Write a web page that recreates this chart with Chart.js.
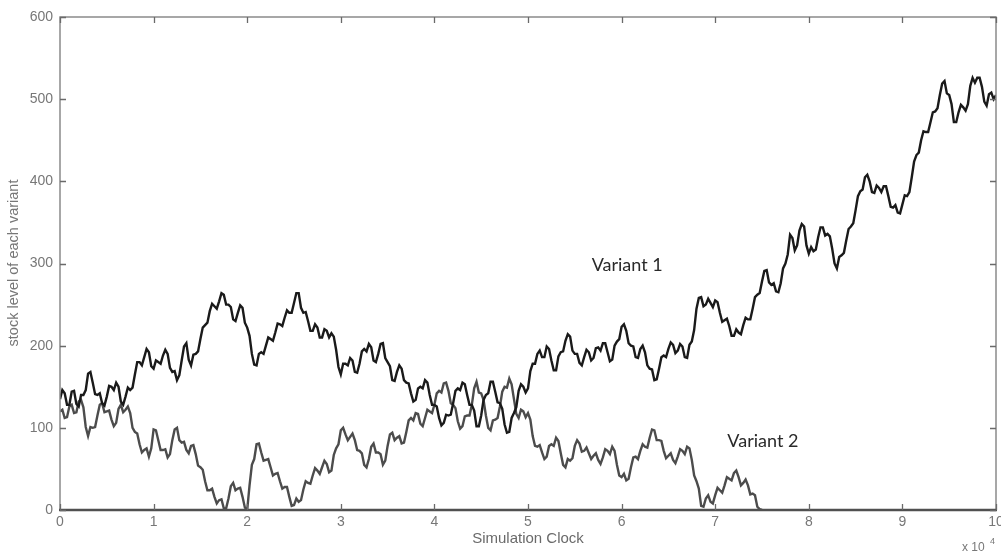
<!DOCTYPE html>
<html><head><meta charset="utf-8">
<script src="https://cdn.jsdelivr.net/npm/chart.js@4/dist/chart.umd.min.js"></script>
<style>html,body{margin:0;padding:0;background:#fff;overflow:hidden}#wrap{width:1001px;height:553px}</style>
</head><body><div id="wrap"><canvas id="c" width="1001" height="553"></canvas></div>
<script>
// Simulation clock (x 10^4)
const clock1 = [
0,0.025,0.05,0.075,0.1,0.125,0.15,0.175,0.2,0.225,0.25,0.275,0.3,0.325,0.35,0.375,0.4,0.425,0.45,0.475,0.5,0.525,0.55,0.575,0.6,0.625,0.65,0.675,0.7,0.725,0.75,0.775,0.8,0.825,0.85,0.875,0.9,0.925,0.95,0.975,
1,1.025,1.05,1.075,1.1,1.125,1.15,1.175,1.2,1.225,1.25,1.275,1.3,1.325,1.35,1.375,1.4,1.425,1.45,1.475,1.5,1.525,1.55,1.575,1.6,1.625,1.65,1.675,1.7,1.725,1.75,1.775,1.8,1.825,1.85,1.875,1.9,1.925,1.95,1.975,
2,2.025,2.05,2.075,2.1,2.125,2.15,2.175,2.2,2.225,2.25,2.275,2.3,2.325,2.35,2.375,2.4,2.425,2.45,2.475,2.5,2.525,2.55,2.575,2.6,2.625,2.65,2.675,2.7,2.725,2.75,2.775,2.8,2.825,2.85,2.875,2.9,2.925,2.95,2.975,
3,3.025,3.05,3.075,3.1,3.125,3.15,3.175,3.2,3.225,3.25,3.275,3.3,3.325,3.35,3.375,3.4,3.425,3.45,3.475,3.5,3.525,3.55,3.575,3.6,3.625,3.65,3.675,3.7,3.725,3.75,3.775,3.8,3.825,3.85,3.875,3.9,3.925,3.95,3.975,
4,4.025,4.05,4.075,4.1,4.125,4.15,4.175,4.2,4.225,4.25,4.275,4.3,4.325,4.35,4.375,4.4,4.425,4.45,4.475,4.5,4.525,4.55,4.575,4.6,4.625,4.65,4.675,4.7,4.725,4.75,4.775,4.8,4.825,4.85,4.875,4.9,4.925,4.95,4.975,
5,5.025,5.05,5.075,5.1,5.125,5.15,5.175,5.2,5.225,5.25,5.275,5.3,5.325,5.35,5.375,5.4,5.425,5.45,5.475,5.5,5.525,5.55,5.575,5.6,5.625,5.65,5.675,5.7,5.725,5.75,5.775,5.8,5.825,5.85,5.875,5.9,5.925,5.95,5.975,
6,6.025,6.05,6.075,6.1,6.125,6.15,6.175,6.2,6.225,6.25,6.275,6.3,6.325,6.35,6.375,6.4,6.425,6.45,6.475,6.5,6.525,6.55,6.575,6.6,6.625,6.65,6.675,6.7,6.725,6.75,6.775,6.8,6.825,6.85,6.875,6.9,6.925,6.95,6.975,
7,7.025,7.05,7.075,7.1,7.125,7.15,7.175,7.2,7.225,7.25,7.275,7.3,7.325,7.35,7.375,7.4,7.425,7.45,7.475,7.5,7.525,7.55,7.575,7.6,7.625,7.65,7.675,7.7,7.725,7.75,7.775,7.8,7.825,7.85,7.875,7.9,7.925,7.95,7.975,
8,8.025,8.05,8.075,8.1,8.125,8.15,8.175,8.2,8.225,8.25,8.275,8.3,8.325,8.35,8.375,8.4,8.425,8.45,8.475,8.5,8.525,8.55,8.575,8.6,8.625,8.65,8.675,8.7,8.725,8.75,8.775,8.8,8.825,8.85,8.875,8.9,8.925,8.95,8.975,
9,9.025,9.05,9.075,9.1,9.125,9.15,9.175,9.2,9.225,9.25,9.275,9.3,9.325,9.35,9.375,9.4,9.425,9.45,9.475,9.5,9.525,9.55,9.575,9.6,9.625,9.65,9.675,9.7,9.725,9.75,9.775,9.8,9.825,9.85,9.875,9.9,9.925,9.95,9.975,
10];
const variant1 = [
135,146,142,128,128,144,145,129,126,140,140,146,166,168,155,141,140,142,130,127,138,151,150,146,155,150,132,128,138,149,146,149,165,180,180,176,186,196,192,175,
172,182,180,178,188,195,190,173,168,169,158,164,182,199,203,183,176,189,190,193,208,222,225,228,242,251,248,245,254,264,262,250,250,247,232,230,240,249,246,228,
222,212,190,177,176,190,192,190,200,210,208,206,216,227,226,224,234,243,240,240,252,264,264,246,240,241,230,218,218,226,222,210,210,220,218,210,215,211,195,174,
165,178,178,176,185,182,168,167,178,193,196,193,202,198,182,180,190,202,203,185,180,175,158,157,168,176,172,158,155,154,142,132,134,148,150,148,158,155,140,128,
128,126,112,103,106,116,115,116,130,145,148,146,155,153,140,128,128,121,102,102,115,134,140,142,156,156,144,131,130,123,104,94,95,112,118,125,145,153,150,143,
148,169,178,178,190,194,186,186,199,196,182,170,170,187,192,193,206,214,211,194,190,190,179,176,186,195,192,182,185,197,198,194,203,203,192,181,183,200,205,208,
223,226,218,203,200,199,186,185,196,200,192,176,172,171,158,159,172,186,188,186,196,204,201,191,194,202,199,186,185,201,205,219,245,258,259,248,250,257,252,247,
255,253,240,229,231,233,224,212,212,220,216,214,225,234,232,232,245,259,262,264,278,291,292,277,274,276,266,265,276,294,300,311,335,331,316,322,340,348,345,322,
312,320,315,317,332,344,344,334,336,333,318,300,294,308,310,313,328,342,345,349,365,382,388,390,405,408,400,387,386,395,392,387,394,394,382,369,368,371,362,361,
372,383,382,387,405,424,432,435,450,461,460,460,472,484,485,489,505,519,522,507,505,494,472,472,484,493,490,486,494,516,526,520,526,526,515,497,492,506,508,500,
505];
const variant2 = [
120,122,112,113,126,128,118,119,132,134,125,101,90,101,100,101,115,128,130,119,120,121,110,102,106,123,128,119,122,126,118,100,95,93,80,70,73,75,65,75,
98,97,85,73,73,74,64,68,85,98,100,85,82,83,73,69,78,79,68,54,52,49,35,24,24,26,16,8,12,13,2,2,14,29,33,24,26,27,16,3,
0,30,55,62,80,81,70,60,61,62,52,42,44,45,35,26,28,28,16,5,6,14,10,12,25,35,33,32,42,51,48,44,52,60,56,46,48,67,75,80,
97,100,92,85,89,93,85,73,72,69,55,52,62,77,81,70,70,68,55,60,78,92,94,85,88,90,81,82,95,109,112,109,118,117,105,102,112,122,120,118,
128,142,145,143,154,155,145,130,128,124,108,99,102,114,115,115,128,148,156,143,142,134,115,100,97,109,110,112,126,144,150,149,160,153,135,117,112,122,120,113,
118,110,90,78,77,79,70,62,65,78,80,78,88,84,69,55,52,62,60,63,78,85,81,71,72,76,69,62,66,69,61,56,64,74,72,68,77,72,55,42,
40,44,36,38,52,64,65,62,72,80,77,76,88,98,97,85,85,84,72,63,66,69,61,57,65,74,72,68,77,75,61,42,35,26,5,4,14,18,10,8,
18,27,24,21,30,40,38,36,45,48,40,30,33,37,30,19,20,18,4,1,0];
const clock2 = clock1.slice(0, variant2.length);
const xTickValues = [0,1,2,3,4,5,6,7,8,9,10];
const yTickValues = [0,100,200,300,400,500,600];
const seriesNames = ['Variant 1','Variant 2'];
const seriesLabelPos = [[5.68,298],[7.13,84]];

const zip = (xs, ys) => xs.map((x, i) => ({x: x, y: ys[i]}));

const framePlugin = {
  id: 'frame',
  afterDatasetsDraw(chart) {
    const {ctx, chartArea: a, scales: {x, y}} = chart;
    ctx.save();
    ctx.strokeStyle = '#8a8a8a';
    ctx.lineWidth = 1.5;
    ctx.beginPath();
    ctx.moveTo(a.left, a.bottom); ctx.lineTo(a.left, a.top);
    ctx.lineTo(a.right, a.top); ctx.lineTo(a.right, a.bottom);
    ctx.stroke();
    ctx.strokeStyle = '#505050';
    ctx.lineWidth = 2.5;
    ctx.beginPath(); ctx.moveTo(a.left - 1, a.bottom); ctx.lineTo(a.right + 1, a.bottom); ctx.stroke();
    ctx.strokeStyle = '#6a6a6a';
    ctx.lineWidth = 1.3;
    ctx.beginPath();
    yTickValues.forEach(v => {
      const py = Math.round(y.getPixelForValue(v)) + 0.5;
      ctx.moveTo(a.left, py); ctx.lineTo(a.left + 6, py);
      ctx.moveTo(a.right, py); ctx.lineTo(a.right - 6, py);
    });
    xTickValues.forEach(v => {
      const px = Math.round(x.getPixelForValue(v)) + 0.5;
      ctx.moveTo(px, a.bottom); ctx.lineTo(px, a.bottom - 6);
      ctx.moveTo(px, a.top); ctx.lineTo(px, a.top + 6);
    });
    ctx.stroke();
    ctx.fillStyle = '#2a2a2a';
    ctx.font = '18px Lato, "Open Sans", sans-serif';
    ctx.textAlign = 'left';
    ctx.textBaseline = 'middle';
    seriesNames.forEach((n, i) => {
      ctx.fillText(n, x.getPixelForValue(seriesLabelPos[i][0]), y.getPixelForValue(seriesLabelPos[i][1]));
    });
    ctx.save();
    ctx.translate(14, 263);
    ctx.rotate(-Math.PI / 2);
    ctx.fillStyle = '#777';
    ctx.font = '14.5px "Liberation Sans", Arial, sans-serif';
    ctx.textAlign = 'center';
    ctx.fillText('stock level of each variant', 0, 0);
    ctx.restore();
    ctx.fillStyle = '#777';
    ctx.textBaseline = 'alphabetic';
    ctx.font = '12px "Liberation Sans", Arial, sans-serif';
    ctx.fillText('x 10', 962, 551);
    ctx.font = '9px "Liberation Sans", Arial, sans-serif';
    ctx.fillText('4', 990, 544);
    ctx.restore();
  }
};

new Chart(document.getElementById('c'), {
  type: 'line',
  data: {
    datasets: [
      {label: seriesNames[0], data: zip(clock1, variant1), borderColor: '#1a1a1a', borderWidth: 2.4, pointRadius: 0, tension: 0, fill: false},
      {label: seriesNames[1], data: zip(clock2, variant2), borderColor: '#4c4c4c', borderWidth: 2.4, pointRadius: 0, tension: 0, fill: false}
    ]
  },
  options: {
    responsive: false,
    animation: false,
    devicePixelRatio: 1,
    layout: {padding: {top: 17, right: 5, left: 0, bottom: 0}},
    plugins: {legend: {display: false}, tooltip: {enabled: false}},
    scales: {
      x: {
        type: 'linear', min: 0, max: 10,
        afterBuildTicks: s => { s.ticks = xTickValues.map(v => ({value: v})); },
        afterFit: s => { s.height = 43; s.paddingLeft = 0; s.paddingRight = 0; },
        grid: {display: false, drawTicks: false},
        border: {display: false},
        ticks: {color: '#777', font: {size: 14, family: '"Liberation Sans", Arial, sans-serif'}, padding: 4, maxRotation: 0, autoSkip: false},
        title: {display: true, text: 'Simulation Clock', color: '#6a6a6a', font: {size: 15, family: '"Liberation Sans", Arial, sans-serif'}, padding: {top: 0, bottom: 5}}
      },
      y: {
        min: 0, max: 600,
        afterBuildTicks: s => { s.ticks = yTickValues.map(v => ({value: v})); },
        afterFit: s => { s.width = 60; },
        grid: {display: false, drawTicks: false},
        border: {display: false},
        ticks: {color: '#777', font: {size: 14, family: '"Liberation Sans", Arial, sans-serif'}, padding: 7}
      }
    }
  },
  plugins: [framePlugin]
});
</script>
</body></html>
